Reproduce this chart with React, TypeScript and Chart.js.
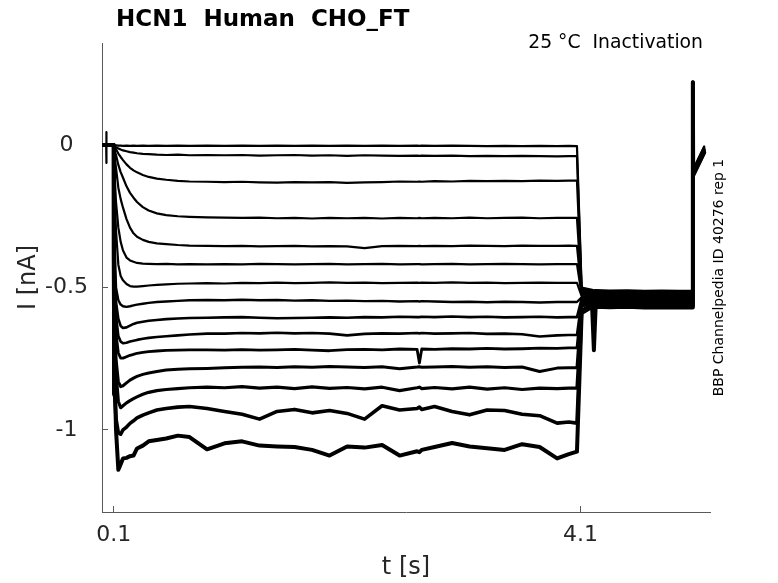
import React, { useEffect, useRef } from "react";
import { Chart, registerables } from "chart.js";

Chart.register(...registerables);

// time axis [s]
const T = [
  0, 0.036, 0.037, 0.038, 0.039, 0.1,
  0.101, 0.105,
  0.12, 0.14, 0.16, 0.18, 0.21, 0.24, 0.27, 0.3, 0.35, 0.4, 0.47, 0.55, 0.65, 0.75, 0.9,
  1.05, 1.2, 1.35, 1.5, 1.65, 1.8, 1.95, 2.1, 2.25, 2.4, 2.55, 2.7,
  2.72, 2.74,
  2.85, 3.0, 3.15, 3.3, 3.45, 3.6, 3.75, 3.9, 4.0, 4.07,
  4.11, 4.2, 4.215, 4.23, 4.35, 4.5, 4.65, 4.8, 4.95, 5.06,
  5.063, 5.066, 5.16,
];

// currents [nA], one array per sweep
const TRACE_01 = [
  0, 0, 0.045, -0.063, 0, 0.001,
  0.001, -0.001,
  -0.001, -0.002, -0.002, -0.003, -0.002, -0.003, -0.002, -0.003, -0.002, -0.003, -0.002, -0.003, -0.002, -0.003, -0.002,
  -0.003, -0.002, -0.003, -0.002, -0.003, -0.002, -0.003, -0.002, -0.003, -0.002, -0.003, -0.002,
  -0.003, -0.002,
  -0.003, -0.002, -0.003, -0.004, -0.003, -0.004, -0.003, -0.004, -0.003, -0.004,
  -0.5, -0.508, -0.51, -0.509, -0.511, -0.51, -0.512, -0.511, -0.512, -0.512,
  0.22, -0.085, -0.005,
];
const TRACE_02 = [
  0.002, 0.002, 0.002, 0.001, 0.002, 0.001,
  -0.87, -0.004,
  -0.008, -0.012, -0.016, -0.019, -0.022, -0.025, -0.027, -0.029, -0.031, -0.032, -0.034, -0.035, -0.034, -0.036, -0.035,
  -0.036, -0.035, -0.037, -0.036, -0.035, -0.037, -0.036, -0.038, -0.036, -0.037, -0.038, -0.037,
  -0.038, -0.037,
  -0.038, -0.037, -0.039, -0.038, -0.039, -0.038, -0.039, -0.04, -0.039, -0.039,
  -0.505, -0.512, -0.513, -0.512, -0.515, -0.514, -0.516, -0.515, -0.516, -0.516,
  0.22, -0.088, -0.008,
];
const TRACE_03 = [
  -0.001, -0.001, -0.001, 0, -0.001, 0,
  -0.875, -0.008,
  -0.015, -0.03, -0.042, -0.053, -0.068, -0.08, -0.089, -0.096, -0.105, -0.112, -0.118, -0.122, -0.126, -0.128, -0.129,
  -0.13, -0.129, -0.131, -0.132, -0.13, -0.131, -0.13, -0.133, -0.131, -0.13, -0.128, -0.129,
  -0.128, -0.129,
  -0.127, -0.128, -0.126, -0.127, -0.126, -0.127, -0.125, -0.126, -0.125, -0.125,
  -0.51, -0.516, -0.517, -0.516, -0.519, -0.518, -0.52, -0.519, -0.52, -0.52,
  0.22, -0.09, -0.01,
];
const TRACE_04 = [
  0.001, 0.001, 0.001, 0.001, 0.001, 0,
  -0.872, -0.015,
  -0.035, -0.07, -0.095, -0.115, -0.145, -0.168, -0.185, -0.2, -0.218, -0.23, -0.24, -0.246, -0.25, -0.252, -0.254,
  -0.255, -0.256, -0.255, -0.257, -0.256, -0.258, -0.256, -0.257, -0.256, -0.258, -0.256, -0.257,
  -0.256, -0.257,
  -0.256, -0.257, -0.255, -0.257, -0.256, -0.255, -0.257, -0.256, -0.256, -0.256,
  -0.515, -0.52, -0.521, -0.52, -0.523, -0.522, -0.524, -0.523, -0.524, -0.524,
  0.22, -0.092, -0.012,
];
const TRACE_05 = [
  0, 0, 0, 0, 0, 0,
  -0.878, -0.03,
  -0.08, -0.15, -0.19, -0.22, -0.26, -0.29, -0.31, -0.322, -0.333, -0.34, -0.345, -0.348, -0.351, -0.353, -0.354,
  -0.355, -0.354, -0.356, -0.355, -0.354, -0.356, -0.355, -0.356, -0.362, -0.355, -0.354, -0.355,
  -0.354, -0.355,
  -0.354, -0.355, -0.353, -0.354, -0.355, -0.353, -0.354, -0.354, -0.353, -0.354,
  -0.52, -0.524, -0.525, -0.524, -0.527, -0.526, -0.528, -0.527, -0.528, -0.528,
  0.22, -0.094, -0.014,
];
const TRACE_06 = [
  0.001, 0, 0.001, 0, 0.001, 0,
  -0.87, -0.08,
  -0.2, -0.29, -0.34, -0.37, -0.395, -0.405, -0.41, -0.414, -0.416, -0.417, -0.418, -0.417, -0.419, -0.418, -0.419,
  -0.418, -0.419, -0.417, -0.418, -0.419, -0.418, -0.417, -0.419, -0.418, -0.417, -0.419, -0.418,
  -0.418, -0.419,
  -0.418, -0.417, -0.419, -0.418, -0.417, -0.418, -0.419, -0.418, -0.418, -0.418,
  -0.525, -0.528, -0.529, -0.528, -0.531, -0.53, -0.532, -0.531, -0.532, -0.532,
  0.22, -0.096, -0.016,
];
const TRACE_07 = [
  0, 0.001, 0, 0.001, 0, 0,
  -0.875, -0.15,
  -0.3, -0.42, -0.46, -0.475, -0.488, -0.495, -0.497, -0.497, -0.495, -0.493, -0.491, -0.489, -0.487, -0.486, -0.485,
  -0.486, -0.484, -0.485, -0.483, -0.485, -0.484, -0.482, -0.484, -0.483, -0.485, -0.484, -0.483,
  -0.484, -0.483,
  -0.484, -0.482, -0.484, -0.483, -0.485, -0.484, -0.483, -0.484, -0.484, -0.484,
  -0.53, -0.532, -0.533, -0.532, -0.535, -0.534, -0.536, -0.535, -0.536, -0.536,
  0.22, -0.098, -0.018,
];
const TRACE_08 = [
  0, 0, 0, 0, 0, 0,
  -0.88, -0.3,
  -0.5, -0.545, -0.56, -0.566, -0.568, -0.566, -0.563, -0.56, -0.557, -0.554, -0.551, -0.549, -0.547, -0.545, -0.544,
  -0.545, -0.543, -0.545, -0.544, -0.546, -0.545, -0.547, -0.546, -0.548, -0.547, -0.549, -0.548,
  -0.549, -0.548,
  -0.549, -0.551, -0.55, -0.552, -0.55, -0.551, -0.553, -0.551, -0.551, -0.551,
  -0.535, -0.537, -0.538, -0.537, -0.539, -0.538, -0.54, -0.539, -0.54, -0.54,
  0.22, -0.1, -0.02,
];
const TRACE_09 = [
  0.001, 0, 0.001, 0, 0, 0,
  -0.87, -0.4,
  -0.55, -0.61, -0.635, -0.642, -0.64, -0.634, -0.628, -0.624, -0.62, -0.617, -0.614, -0.611, -0.609, -0.607, -0.606,
  -0.605, -0.604, -0.606, -0.608, -0.607, -0.606, -0.605, -0.606, -0.604, -0.605, -0.603, -0.604,
  -0.604, -0.603,
  -0.604, -0.602, -0.604, -0.603, -0.605, -0.604, -0.603, -0.605, -0.604, -0.604,
  -0.54, -0.541, -0.542, -0.541, -0.543, -0.542, -0.544, -0.543, -0.544, -0.544,
  0.22, -0.095, -0.015,
];
const TRACE_10 = [
  0, 0, 0, 0, 0, 0,
  -0.875, -0.45,
  -0.6, -0.67, -0.69, -0.696, -0.694, -0.69, -0.687, -0.684, -0.68, -0.677, -0.674, -0.671, -0.668, -0.665, -0.662,
  -0.662, -0.66, -0.661, -0.659, -0.661, -0.66, -0.662, -0.668, -0.663, -0.661, -0.662, -0.66,
  -0.661, -0.66,
  -0.662, -0.661, -0.66, -0.663, -0.662, -0.664, -0.672, -0.668, -0.667, -0.667,
  -0.545, -0.545, -0.546, -0.545, -0.547, -0.546, -0.548, -0.547, -0.548, -0.548,
  0.22, -0.097, -0.017,
];
const TRACE_11 = [
  0, 0, 0, 0, 0, 0,
  -0.87, -0.5,
  -0.66, -0.73, -0.748, -0.748, -0.743, -0.738, -0.735, -0.731, -0.728, -0.725, -0.723, -0.721, -0.72, -0.719, -0.719,
  -0.72, -0.718, -0.72, -0.719, -0.717, -0.72, -0.722, -0.718, -0.717, -0.719, -0.716, -0.717,
  -0.765, -0.716,
  -0.717, -0.715, -0.716, -0.714, -0.716, -0.715, -0.713, -0.714, -0.712, -0.712,
  -0.55, -0.549, -0.55, -0.549, -0.551, -0.55, -0.552, -0.551, -0.552, -0.552,
  0.22, -0.099, -0.019,
];
const TRACE_12 = [
  0, 0, 0, 0, 0, 0,
  -0.87, -0.55,
  -0.75, -0.83, -0.848, -0.845, -0.835, -0.825, -0.818, -0.812, -0.805, -0.8, -0.795, -0.79, -0.787, -0.785, -0.784,
  -0.782, -0.78, -0.779, -0.781, -0.778, -0.78, -0.777, -0.779, -0.781, -0.778, -0.785, -0.779,
  -0.778, -0.78,
  -0.779, -0.777, -0.78, -0.778, -0.781, -0.779, -0.795, -0.783, -0.782, -0.782,
  -0.555, -0.553, -0.554, -0.553, -0.555, -0.554, -0.556, -0.555, -0.556, -0.556,
  0.22, -0.101, -0.021,
];
const TRACE_13 = [
  0, 0, 0, 0, 0, 0,
  -0.87, -0.6,
  -0.8, -0.9, -0.922, -0.915, -0.905, -0.897, -0.89, -0.884, -0.875, -0.868, -0.862, -0.858, -0.855, -0.852, -0.85,
  -0.852, -0.848, -0.853, -0.85, -0.855, -0.849, -0.854, -0.851, -0.856, -0.85, -0.862, -0.852,
  -0.85, -0.855,
  -0.851, -0.856, -0.85, -0.857, -0.852, -0.858, -0.853, -0.855, -0.853, -0.853,
  -0.565, -0.557, -0.558, -0.557, -0.559, -0.558, -0.56, -0.559, -0.56, -0.56,
  0.22, -0.103, -0.023,
];
const TRACE_14 = [
  0, 0, 0, 0, 0, 0,
  -0.6, -0.85,
  -0.96, -1.01, -1.015, -1.0, -0.99, -0.977, -0.968, -0.958, -0.948, -0.94, -0.93, -0.925, -0.92, -0.918, -0.925,
  -0.935, -0.945, -0.962, -0.935, -0.928, -0.94, -0.932, -0.942, -0.962, -0.915, -0.93, -0.925,
  -0.92, -0.928,
  -0.918, -0.935, -0.947, -0.93, -0.932, -0.945, -0.95, -0.976, -0.972, -0.976,
  -0.58, -0.562, -0.563, -0.562, -0.564, -0.563, -0.565, -0.564, -0.565, -0.565,
  0.22, -0.105, -0.025,
];
const TRACE_15 = [
  0, 0, 0, 0, 0, 0,
  -0.4, -0.75,
  -1.0, -1.14, -1.12, -1.1, -1.098, -1.092, -1.09, -1.065, -1.055, -1.04, -1.035, -1.03, -1.02, -1.025, -1.068,
  -1.047, -1.04, -1.055, -1.058, -1.06, -1.07, -1.09, -1.058, -1.062, -1.053, -1.09, -1.075,
  -1.078, -1.07,
  -1.06, -1.046, -1.058, -1.064, -1.07, -1.05, -1.06, -1.1, -1.085, -1.076,
  -0.59, -0.568, -0.72, -0.568, -0.569, -0.568, -0.57, -0.569, -0.57, -0.57,
  0.22, -0.107, -0.027,
];

const TRACES = [
  TRACE_01, TRACE_02, TRACE_03, TRACE_04, TRACE_05,
  TRACE_06, TRACE_07, TRACE_08, TRACE_09, TRACE_10,
  TRACE_11, TRACE_12, TRACE_13, TRACE_14, TRACE_15,
];

const X_TICKS = [0.1, 4.1];
const X_TICK_LABELS = ["0.1", "4.1"];
const Y_TICKS = [0, -0.5, -1];
const Y_TICK_LABELS = ["0", "-0.5", "-1"];
const X_RANGE = [0, 5.21];
const Y_RANGE = [-1.288, 0.358];

const TITLE = "HCN1  Human  CHO_FT";
const SUBTITLE = "25 °C  Inactivation";
const SIDE_NOTE = "BBP Channelpedia ID 40276 rep 1";
const X_LABEL = "t [s]";
const Y_LABEL = "I [nA]";

// visual style (noise band thickness of each sweep)
const LINE_WIDTHS = [2.2, 2.2, 2.2, 2.2, 2.2, 2.2, 2.2, 2.4, 2.6, 2.6, 2.8, 3, 3.2, 3.6, 4];

const FONT = '"DejaVu Sans", "Liberation Sans", sans-serif';
const AXIS_GRAY = "#595959";
const TEXT_DARK = "#262626";

const textPlugin = {
  id: "extraTexts",
  afterDraw(chart: any) {
    const c = chart.ctx as CanvasRenderingContext2D;
    const area = chart.chartArea;
    c.save();
    c.fillStyle = "#000";
    c.textBaseline = "alphabetic";
    c.font = `bold 23px ${FONT}`;
    c.textAlign = "left";
    c.fillText(TITLE, area.left + 14, 26);
    c.font = `18.8px ${FONT}`;
    c.textAlign = "right";
    c.fillText(SUBTITLE, area.right - 7, 48);
    c.translate(area.right + 12.5, (area.top + area.bottom) / 2);
    c.rotate(-Math.PI / 2);
    c.font = `14px ${FONT}`;
    c.textAlign = "center";
    c.fillText(SIDE_NOTE, 0, 0);
    c.restore();
  },
};

export default function App() {
  const ref = useRef<HTMLCanvasElement | null>(null);

  useEffect(() => {
    if (!ref.current) return;
    const datasets = TRACES.map((trace, i) => ({
      label: `sweep ${i + 1}`,
      data: T.map((t, k) => ({ x: t, y: trace[k] })),
      borderColor: "#000",
      backgroundColor: "#000",
      borderWidth: LINE_WIDTHS[i],
      pointRadius: 0,
      fill: false,
      tension: 0,
      borderJoinStyle: "round" as const,
    }));

    const chart = new Chart(ref.current, {
      type: "line",
      data: { datasets },
      plugins: [textPlugin],
      options: {
        animation: false,
        responsive: false,
        devicePixelRatio: 1,
        layout: { padding: { top: 43, right: 68, left: 0, bottom: 0 } },
        plugins: {
          legend: { display: false },
          tooltip: { enabled: false },
          title: { display: false },
        },
        elements: { line: { borderCapStyle: "round" } },
        scales: {
          x: {
            type: "linear",
            min: X_RANGE[0],
            max: X_RANGE[1],
            afterFit: (scale: any) => {
              scale.height = 71;
            },
            afterBuildTicks: (scale: any) => {
              scale.ticks = X_TICKS.map((v) => ({ value: v }));
            },
            ticks: {
              autoSkip: false,
              maxRotation: 0,
              padding: 16,
              color: TEXT_DARK,
              font: { family: FONT, size: 22 },
              callback: (v: any) => {
                const i = X_TICKS.indexOf(Number(v));
                return i >= 0 ? X_TICK_LABELS[i] : "";
              },
            },
            grid: {
              display: true,
              drawOnChartArea: false,
              drawTicks: true,
              tickLength: -6,
              color: AXIS_GRAY,
              lineWidth: 1,
            },
            border: { display: true, color: AXIS_GRAY, width: 1 },
            title: {
              display: true,
              text: X_LABEL,
              color: TEXT_DARK,
              font: { family: FONT, size: 24 },
              padding: { top: 0, bottom: 1 },
            },
          },
          y: {
            type: "linear",
            min: Y_RANGE[0],
            max: Y_RANGE[1],
            afterFit: (scale: any) => {
              scale.width = 102;
            },
            afterBuildTicks: (scale: any) => {
              scale.ticks = Y_TICKS.map((v) => ({ value: v }));
            },
            ticks: {
              autoSkip: false,
              padding: 20,
              crossAlign: "center",
              color: TEXT_DARK,
              font: { family: FONT, size: 22 },
              callback: (v: any) => {
                const i = Y_TICKS.indexOf(Number(v));
                return i >= 0 ? Y_TICK_LABELS[i] : "";
              },
            },
            grid: {
              display: true,
              drawOnChartArea: false,
              drawTicks: true,
              tickLength: -6,
              color: AXIS_GRAY,
              lineWidth: 1,
            },
            border: { display: true, color: AXIS_GRAY, width: 1 },
            title: {
              display: true,
              text: Y_LABEL,
              color: TEXT_DARK,
              font: { family: FONT, size: 24 },
              padding: { top: 14, bottom: 0 },
            },
          },
        },
      },
    });
    return () => chart.destroy();
  }, []);

  return (
    <div
      style={{
        position: "fixed",
        left: 0,
        top: 0,
        width: 778,
        height: 583,
        background: "#fff",
      }}
    >
      <canvas ref={ref} width={778} height={583} style={{ width: 778, height: 583, display: "block" }} />
    </div>
  );
}
